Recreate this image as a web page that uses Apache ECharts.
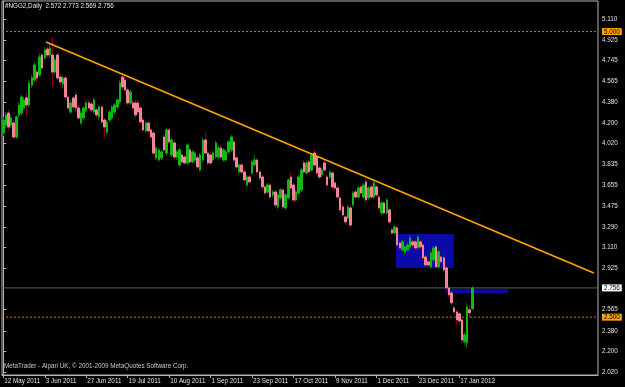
<!DOCTYPE html>
<html><head><meta charset="utf-8">
<script src="https://cdn.jsdelivr.net/npm/echarts@6/dist/echarts.min.js"></script>
<style>html,body{margin:0;padding:0;background:#000;}#c{width:625px;height:387px;}</style>
</head><body><div id="c"></div>
<script>
const titleText = '#NGG2,Daily  2.572 2.773 2.569 2.756';
const footerText = 'MetaTrader - Alpari UK, \u00a9 2001-2009 MetaQuotes Software Corp.';
const xTickLabels = ['12 May 2011','3 Jun 2011','27 Jun 2011','19 Jul 2011','10 Aug 2011','1 Sep 2011','23 Sep 2011','17 Oct 2011','9 Nov 2011','1 Dec 2011','23 Dec 2011','17 Jan 2012'];
const yTickLabels = [5.110,4.925,4.745,4.565,4.380,4.200,4.020,3.835,3.655,3.475,3.290,3.110,2.925,2.565,2.380,2.200,2.020];
const levelHigh = 5.000, levelLow = 2.500, bidPrice = 2.756;

const open = [
4.112,4.182,4.287,4.182,4.200,4.077,4.270,4.287,4.331,4.419,
4.357,4.532,4.576,4.646,4.620,4.795,4.769,4.847,4.795,4.795,
4.646,4.795,4.602,4.541,4.594,4.427,4.296,4.419,4.445,4.331,
4.200,4.244,4.314,4.375,4.366,4.296,4.314,4.252,4.340,4.226,
4.121,4.226,4.244,4.296,4.340,4.384,4.602,4.576,4.489,4.375,
4.375,4.375,4.375,4.331,4.226,4.130,4.200,4.139,4.112,3.894,
3.876,3.894,4.077,3.937,4.139,3.920,4.025,3.902,3.832,3.920,
3.902,3.850,3.964,3.859,3.876,3.894,3.789,3.876,4.051,3.937,
3.920,3.876,3.902,3.902,3.981,3.876,3.876,3.946,3.964,4.034,
3.894,3.771,3.832,3.771,3.657,3.727,3.762,3.832,3.876,3.771,
3.727,3.640,3.596,3.657,3.570,3.596,3.465,3.544,3.614,3.456,
3.544,3.727,3.657,3.526,3.587,3.614,3.850,3.762,3.859,3.789,
3.937,3.902,3.806,3.745,3.850,3.727,3.727,3.762,3.675,3.631,
3.544,3.465,3.377,3.369,3.456,3.482,3.596,3.552,3.640,3.552,
3.684,3.544,3.640,3.552,3.640,3.552,3.412,3.500,3.412,3.439,
3.264,3.237,3.281,3.150,3.089,3.071,3.089,3.115,3.159,3.159,
3.106,3.159,3.132,3.027,2.984,2.940,3.001,3.115,2.940,3.027,
3.019,2.931,2.756,2.712,2.581,2.546,2.529,2.476,2.284,2.275,2.564,2.572];
const close = [
4.226,4.270,4.165,4.244,4.077,4.252,4.357,4.427,4.401,4.357,
4.550,4.594,4.707,4.594,4.777,4.681,4.839,4.795,4.856,4.646,
4.751,4.594,4.559,4.594,4.427,4.331,4.375,4.340,4.331,4.244,
4.287,4.331,4.375,4.331,4.314,4.401,4.270,4.340,4.209,4.165,
4.209,4.296,4.340,4.357,4.401,4.550,4.515,4.489,4.375,4.471,
4.331,4.270,4.296,4.209,4.139,4.200,4.130,4.077,3.937,3.981,
3.964,3.946,3.964,4.139,4.034,4.051,3.902,3.946,3.964,3.859,
3.850,4.007,3.859,3.946,3.937,3.815,3.920,4.051,3.937,3.850,
3.850,3.937,4.025,3.981,3.902,3.964,3.946,4.034,4.077,3.876,
3.815,3.832,3.771,3.701,3.727,3.684,3.859,3.876,3.771,3.719,
3.640,3.587,3.657,3.552,3.596,3.482,3.570,3.614,3.465,3.570,
3.701,3.631,3.526,3.596,3.727,3.789,3.771,3.850,3.771,3.920,
3.832,3.762,3.727,3.789,3.789,3.657,3.771,3.640,3.631,3.552,
3.439,3.395,3.334,3.465,3.307,3.587,3.552,3.631,3.587,3.657,
3.526,3.631,3.552,3.675,3.570,3.456,3.500,3.412,3.526,3.334,
3.237,3.290,3.132,3.106,3.159,3.115,3.132,3.194,3.132,3.106,
3.202,3.115,3.019,2.957,2.957,3.062,3.106,2.940,3.071,2.984,
2.914,2.756,2.695,2.625,2.546,2.476,2.467,2.301,2.345,2.590,2.538,2.756];
const low = [
4.086,4.156,4.139,4.156,4.060,4.060,4.244,4.270,4.314,4.252,
4.340,4.506,4.559,4.559,4.602,4.664,4.751,4.769,4.769,4.515,
4.620,4.576,4.532,4.506,4.401,4.314,4.279,4.314,4.296,4.226,
4.182,4.226,4.296,4.314,4.296,4.279,4.244,4.226,4.191,4.069,
4.095,4.209,4.226,4.279,4.314,4.366,4.489,4.471,4.357,4.357,
4.314,4.244,4.270,4.191,4.121,4.112,4.112,4.060,3.920,3.876,
3.859,3.876,3.946,3.920,4.016,3.902,3.885,3.876,3.815,3.841,
3.832,3.832,3.841,3.841,3.859,3.797,3.771,3.859,3.920,3.832,
3.832,3.859,3.885,3.885,3.885,3.859,3.859,3.929,3.946,3.859,
3.797,3.754,3.754,3.684,3.640,3.666,3.745,3.815,3.754,3.701,
3.622,3.570,3.579,3.535,3.544,3.465,3.447,3.526,3.447,3.439,
3.526,3.614,3.509,3.509,3.570,3.596,3.754,3.745,3.754,3.771,
3.815,3.745,3.710,3.727,3.771,3.640,3.710,3.622,3.614,3.535,
3.421,3.377,3.316,3.351,3.290,3.465,3.535,3.535,3.570,3.535,
3.509,3.526,3.535,3.535,3.552,3.439,3.395,3.395,3.395,3.316,
3.220,3.220,3.115,3.089,3.071,3.045,3.071,3.097,3.115,3.089,
3.089,3.097,3.001,2.940,2.940,2.922,2.984,2.922,2.922,2.966,
2.896,2.739,2.677,2.607,2.529,2.432,2.441,2.275,2.258,2.226,2.494,2.569];
const high = [
4.252,4.296,4.314,4.270,4.226,4.270,4.384,4.445,4.427,4.462,
4.576,4.620,4.734,4.664,4.812,4.821,4.865,4.874,4.891,4.952,
4.777,4.812,4.629,4.611,4.611,4.445,4.401,4.436,4.471,4.357,
4.314,4.349,4.401,4.401,4.384,4.419,4.331,4.357,4.357,4.244,
4.226,4.314,4.357,4.375,4.419,4.576,4.637,4.620,4.515,4.489,
4.401,4.401,4.401,4.349,4.244,4.217,4.217,4.156,4.130,3.999,
3.981,3.964,4.095,4.156,4.156,4.069,4.042,3.964,3.981,3.937,
3.920,4.025,3.981,3.964,3.955,3.911,3.937,4.069,4.121,3.955,
3.937,3.955,4.042,3.999,3.999,3.981,3.964,4.051,4.095,4.051,
3.911,3.850,3.850,3.789,3.745,3.745,3.876,3.920,3.894,3.789,
3.745,3.657,3.675,3.675,3.614,3.614,3.587,3.631,3.631,3.587,
3.719,3.771,3.675,3.614,3.745,3.806,3.876,3.867,3.876,3.937,
3.964,3.920,3.824,3.806,3.876,3.745,3.789,3.780,3.692,3.649,
3.561,3.482,3.395,3.482,3.474,3.605,3.614,3.649,3.657,3.675,
3.719,3.649,3.657,3.692,3.657,3.570,3.517,3.517,3.544,3.456,
3.281,3.307,3.299,3.167,3.176,3.132,3.150,3.220,3.176,3.176,
3.220,3.176,3.150,3.045,3.001,3.080,3.124,3.132,3.089,3.045,
3.036,2.949,2.774,2.730,2.598,2.564,2.546,2.494,2.371,2.625,2.607,2.773];

// trend line (bar index, price) and rectangles (bar index range, price range)
const trendBars = [16.5, 227.9];
const trendPrices = [4.909, 2.887];
const rectBars = [[151.5, 173.9], [170.9, 194.8]];
const rectPrices = [[3.228, 2.930], [2.744, 2.709]];

const totalSlots = 230;
const categories = [];
(function(){ let d = new Date(Date.UTC(2011,4,12));
  while (categories.length < totalSlots) { const w = d.getUTCDay(); if (w !== 0 && w !== 6) categories.push(d.toISOString().slice(0,10)); d.setUTCDate(d.getUTCDate()+1); } })();

const fullData = open.map((o,i) => [o, close[i], low[i], high[i]]);
const bodyData = open.map((o,i) => [o, close[i], Math.min(o, close[i]), Math.max(o, close[i])]);

const FONT = "'Liberation Sans', Arial, sans-serif";
const FS = 6.3;
const labelIdx = (i) => i % 16 === 0 && i / 16 < xTickLabels.length;
const xEdges = [-0.5, totalSlots - 0.5];

function hLine(price, color, type, z) {
  return {type: 'line', xAxisIndex: 1, z: z, silent: true, symbol: 'none', animation: false,
    data: xEdges.map(x => [x, price]), lineStyle: {color: color, type: type, width: 1}};
}

const chart = echarts.init(document.getElementById('c'), null, {renderer: 'canvas'});
chart.setOption({
  animation: false,
  backgroundColor: '#000000',
  title: [
    {text: titleText, left: 5, top: 3, padding: 0, textStyle: {color: '#e8e8e8', fontSize: FS, fontWeight: 'normal', fontFamily: FONT}},
    {text: footerText, left: 4, top: 363, padding: 0, textStyle: {color: '#c8c8c8', fontSize: FS, fontWeight: 'normal', fontFamily: FONT}}
  ],
  grid: {left: 2, right: 27, top: 1, bottom: 12, show: true, borderColor: '#b4b4b4', borderWidth: 1, backgroundColor: 'transparent'},
  xAxis: [
    {type: 'category', data: categories, boundaryGap: true,
     axisLine: {lineStyle: {color: '#b4b4b4'}},
     axisTick: {show: true, alignWithLabel: true, interval: labelIdx, length: 3, lineStyle: {color: '#b4b4b4'}},
     axisLabel: {interval: labelIdx, formatter: (v, i) => xTickLabels[i / 16], align: 'left', color: '#e0e0e0', fontSize: FS, margin: 3, fontFamily: FONT, padding: [0,0,0,1]},
     splitLine: {show: false}},
    {type: 'value', min: xEdges[0], max: xEdges[1], show: false}
  ],
  yAxis: {type: 'value', position: 'right', min: 1.9937, max: 5.2676,
    axisLine: {show: true, lineStyle: {color: '#b4b4b4'}},
    axisTick: {show: true, length: 3, customValues: yTickLabels, lineStyle: {color: '#b4b4b4'}},
    axisLabel: {customValues: yTickLabels.concat([levelHigh, levelLow, bidPrice]), margin: 4, color: '#e0e0e0', fontSize: FS, fontFamily: FONT,
      formatter: (v) => {
        const s = v.toFixed(3);
        if (Math.abs(v - levelHigh) < 1e-6 || Math.abs(v - levelLow) < 1e-6) return '{o|' + s + '}';
        if (Math.abs(v - bidPrice) < 1e-6) return '{w|' + s + '}';
        return s;
      },
      rich: {o: {backgroundColor: '#ffa500', color: '#000', padding: [1,2,0,2], fontSize: FS, fontFamily: FONT},
             w: {backgroundColor: '#ffffff', color: '#000', padding: [1,2,0,2], fontSize: FS, fontFamily: FONT}}},
    splitLine: {show: false}},
  series: [
    {type: 'line', xAxisIndex: 1, data: [], z: 1, silent: true, symbol: 'none',
     markArea: {silent: true, itemStyle: {color: '#0a0aa8', opacity: 1},
       data: rectBars.map((b, k) => [{coord: [b[0], rectPrices[k][0]]}, {coord: [b[1], rectPrices[k][1]]}])}},
    hLine(levelHigh, '#c88200', [2, 2], 1),
    hLine(levelLow, '#c88200', [2, 2], 1),
    hLine(bidPrice, '#5c5c6c', 'solid', 1),
    {type: 'candlestick', data: fullData, barWidth: 2, z: 2,
     itemStyle: {color: '#006a00', color0: '#8c0028', borderColor: '#006a00', borderColor0: '#8c0028', borderWidth: 1}},
    {type: 'candlestick', data: bodyData, barWidth: 2, z: 3,
     itemStyle: {color: '#10b810', color0: '#f2849a', borderColor: '#10b810', borderColor0: '#f2849a', borderWidth: 1}},
    {type: 'line', xAxisIndex: 1, z: 4, symbol: 'none', silent: true,
     data: trendBars.map((b, k) => [b, trendPrices[k]]),
     lineStyle: {color: '#ffa500', width: 1.6}}
  ]
});
</script></body></html>
